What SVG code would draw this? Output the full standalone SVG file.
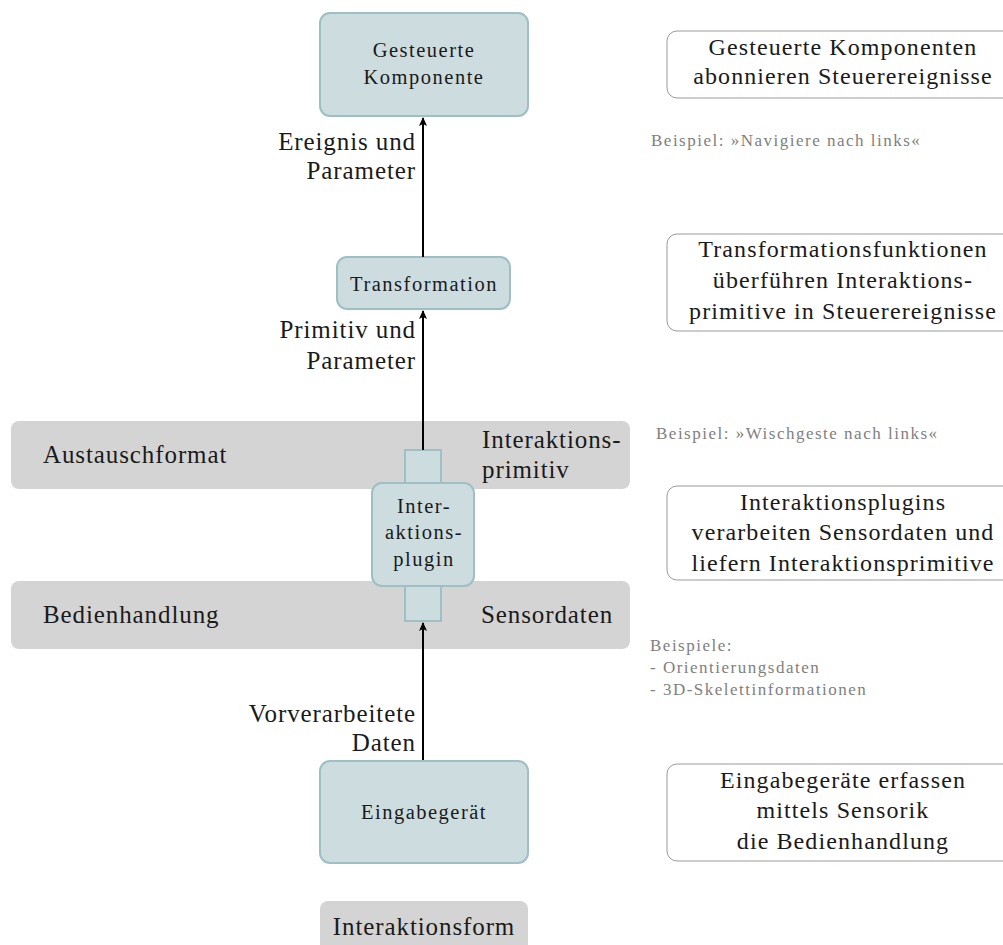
<svg xmlns="http://www.w3.org/2000/svg" width="1003" height="945" viewBox="0 0 1003 945">
  <style>
    text { font-family: "Liberation Serif", "DejaVu Serif", serif; fill: #1a1a1a; }
    .node { fill: #cddcdf; stroke: #9ebfc3; stroke-width: 2; }
    .band { fill: #d4d4d4; }
    .note { fill: #ffffff; stroke: #9a9a9a; stroke-width: 1; }
    .nt { font-size: 20.5px; letter-spacing: 1.5px; text-anchor: middle; }
    .lbl { font-size: 25px; letter-spacing: 0.9px; }
    .end { text-anchor: end; }
    .nb { font-size: 24px; letter-spacing: 1.1px; text-anchor: middle; }
    .ex { font-size: 17px; letter-spacing: 1.5px; fill: #808080; }
    .edge { stroke: #000; stroke-width: 2; fill: none; marker-end: url(#arrow); }
  </style>
  <defs>
    <marker id="arrow" markerWidth="10" markerHeight="10" refX="8" refY="5" orient="auto" markerUnits="userSpaceOnUse">
      <path d="M0,1 L9,5 L0,9 L2,5 Z" fill="#000"/>
    </marker>
  </defs>

  <!-- layer bands -->
  <g id="band-austauschformat">
    <rect class="band" x="11" y="421" width="619" height="68" rx="8"/>
    <text class="lbl" x="43" y="463">Austauschformat</text>
    <text class="lbl" x="482" y="448">Interaktions-</text>
    <text class="lbl" x="482" y="478">primitiv</text>
  </g>
  <g id="band-bedienhandlung">
    <rect class="band" x="11" y="581" width="619" height="68" rx="8"/>
    <text class="lbl" x="43" y="623">Bedienhandlung</text>
    <text class="lbl" x="481" y="623">Sensordaten</text>
  </g>
  <g id="band-interaktionsform">
    <rect class="band" x="320" y="901" width="208" height="60" rx="8"/>
    <text class="lbl" x="424" y="935" text-anchor="middle">Interaktionsform</text>
  </g>

  <!-- processing nodes -->
  <g id="node-komponente">
    <rect class="node" x="320" y="13" width="208" height="103" rx="10"/>
    <text class="nt" x="424" y="57">Gesteuerte</text>
    <text class="nt" x="424" y="84">Komponente</text>
  </g>
  <g id="node-transformation">
    <rect class="node" x="337" y="257" width="173" height="52" rx="10"/>
    <text class="nt" x="424" y="291">Transformation</text>
  </g>
  <g id="node-plugin">
    <rect class="node" x="405" y="450" width="36" height="40"/>
    <rect class="node" x="405" y="583" width="36" height="38"/>
    <rect class="node" x="372" y="483" width="102" height="103" rx="10"/>
    <text class="nt" x="424" y="513">Inter-</text>
    <text class="nt" x="424" y="539">aktions-</text>
    <text class="nt" x="424" y="566">plugin</text>
  </g>
  <g id="node-eingabegeraet">
    <rect class="node" x="320" y="761" width="208" height="102" rx="10"/>
    <text class="nt" x="424" y="819">Eingabegerät</text>
  </g>

  <!-- connectors -->
  <g id="connectors">
    <line class="edge" x1="423" y1="257" x2="423" y2="118"/>
    <text class="lbl end" x="416" y="150">Ereignis und</text>
    <text class="lbl end" x="416" y="179">Parameter</text>
    <line class="edge" x1="423" y1="450" x2="423" y2="311"/>
    <text class="lbl end" x="416" y="338">Primitiv und</text>
    <text class="lbl end" x="416" y="369">Parameter</text>
    <line class="edge" x1="423" y1="760" x2="423" y2="623"/>
    <text class="lbl end" x="416" y="722">Vorverarbeitete</text>
    <text class="lbl end" x="416" y="751">Daten</text>
  </g>

  <!-- explanatory notes -->
  <g id="note-komponente">
    <rect class="note" x="667" y="31" width="350" height="67" rx="10"/>
    <text class="nb" x="843" y="55">Gesteuerte Komponenten</text>
    <text class="nb" x="843" y="84">abonnieren Steuerereignisse</text>
    <text class="ex" x="651" y="146">Beispiel: »Navigiere nach links«</text>
  </g>
  <g id="note-transformation">
    <rect class="note" x="667" y="234" width="350" height="97" rx="10"/>
    <text class="nb" x="843" y="257">Transformationsfunktionen</text>
    <text class="nb" x="843" y="288">überführen Interaktions-</text>
    <text class="nb" x="843" y="319">primitive in Steuerereignisse</text>
    <text class="ex" x="656" y="439">Beispiel: »Wischgeste nach links«</text>
  </g>
  <g id="note-plugin">
    <rect class="note" x="667" y="486" width="350" height="94" rx="10"/>
    <text class="nb" x="843" y="510">Interaktionsplugins</text>
    <text class="nb" x="843" y="540">verarbeiten Sensordaten und</text>
    <text class="nb" x="843" y="571">liefern Interaktionsprimitive</text>
    <text class="ex" x="650" y="651">Beispiele:</text>
    <text class="ex" x="650" y="673">- Orientierungsdaten</text>
    <text class="ex" x="650" y="695">- 3D-Skelettinformationen</text>
  </g>
  <g id="note-eingabegeraet">
    <rect class="note" x="667" y="764" width="350" height="97" rx="10"/>
    <text class="nb" x="843" y="788">Eingabegeräte erfassen</text>
    <text class="nb" x="843" y="818">mittels Sensorik</text>
    <text class="nb" x="843" y="849">die Bedienhandlung</text>
  </g>
</svg>
